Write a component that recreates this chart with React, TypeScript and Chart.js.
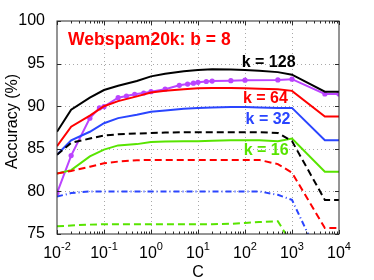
import React, { useEffect, useRef } from "react";
import { Chart, registerables } from "chart.js";
Chart.register(...registerables);

// C values (x axis, log scale)
const C_GRID = [0.01, 0.02, 0.05, 0.1, 0.2, 0.5, 1, 2, 5, 10, 20, 50, 100, 200, 500, 1000, 5000, 10000];
// solid curves
const K128 = [87.0, 89.6, 91.0, 91.9, 92.4, 92.95, 93.5, 93.8, 94.1, 94.25, 94.35, 94.3, 94.25, 94.15, 94.0, 93.7, 91.7, 91.7];
const K64 = [85.3, 87.6, 88.9, 90.0, 90.6, 91.15, 91.6, 91.8, 92.0, 92.1, 92.15, 92.15, 92.1, 92.05, 92.0, 91.8, 88.8, 88.8];
const K32 = [84.3, 86.0, 87.0, 88.0, 88.6, 89.0, 89.35, 89.5, 89.7, 89.8, 89.85, 89.9, 89.9, 89.85, 89.8, 89.8, 86.0, 86.0];
const K16 = [82.1, 82.5, 84.1, 84.9, 85.4, 85.55, 85.8, 85.85, 85.9, 85.9, 85.95, 86.0, 86.0, 86.0, 85.9, 86.2, 82.3, 82.3];
// dashed curves
const K128_D = [84.3, 85.7, 86.2, 86.55, 86.7, 86.8, 86.85, 86.9, 86.95, 86.95, 86.95, 86.95, 86.95, 86.95, 86.85, 85.9, 79.0, 79.0];
const K64_D = [82.1, 82.4, 82.9, 83.3, 83.5, 83.65, 83.7, 83.7, 83.7, 83.7, 83.7, 83.7, 83.7, 83.7, 83.2, 82.2, 75.7, 75.7];
const K32_D = [79.4, 79.8, 80.0, 80.0, 80.0, 80.0, 80.0, 80.0, 80.0, 80.0, 80.0, 80.0, 80.0, 80.0, 79.6, 79.0, 70.8, 70.8];
const K16_D = [75.9, 76.0, 76.1, 76.15, 76.15, 76.15, 76.15, 76.15, 76.15, 76.15, 76.15, 76.2, 76.3, 76.4, 76.5, 73.8, 70.0, 70.0];
// magenta curve with markers
const C_MAG = [0.01, 0.02, 0.05, 0.08, 0.1, 0.2, 0.3, 0.45, 0.7, 1, 2, 4, 6, 8, 10, 15, 20, 50, 100, 500, 1000, 5000, 10000];
const MAG = [79.8, 84.2, 88.6, 89.8, 89.95, 91.0, 91.2, 91.4, 91.55, 91.7, 92.0, 92.45, 92.6, 92.7, 92.8, 92.9, 92.95, 93.0, 93.05, 93.08, 93.17, 91.44, 91.44];

const X_EXPONENTS = [-2, -1, 0, 1, 2, 3, 4];
const Y_MIN = 75;
const Y_MAX = 100;
const Y_STEP = 5;
const TITLE = "Webspam20k: b = 8";
const X_TITLE = "C";
const Y_TITLE = "Accuracy (%)";

const BLACK = "#000000";
const RED = "#ff0000";
const BLUE = "#2a45ff";
const GREEN = "#58e400";
const MAGENTA = "#bb44ff";

// annotation text anchored in data coordinates
const ANNOTATIONS = [
  { text: "k = 128", c: 318, v: 94.64, color: BLACK },
  { text: "k = 64", c: 272, v: 90.35, color: RED },
  { text: "k = 32", c: 309, v: 87.93, color: BLUE },
  { text: "k = 16", c: 282, v: 84.3, color: GREEN },
];
const TITLE_POS = { c: 0.0172, v: 97.19 };

const FONT = "'Liberation Sans', Arial, Helvetica, sans-serif";

const pts = (xs: number[], ys: number[]) => xs.map((x, i) => ({ x, y: ys[i] }));

const dottedGrid = {
  id: "dottedGrid",
  beforeDatasetsDraw(chart: any) {
    const { ctx, chartArea: a, scales } = chart;
    ctx.save();
    ctx.strokeStyle = "#a8a8a8";
    ctx.lineWidth = 1;
    ctx.setLineDash([1, 3]);
    ctx.beginPath();
    for (const e of X_EXPONENTS) {
      const px = Math.round(scales.x.getPixelForValue(Math.pow(10, e))) + 0.5;
      if (px <= a.left + 1 || px >= a.right - 1) continue;
      ctx.moveTo(px, a.bottom);
      ctx.lineTo(px, a.top);
    }
    for (let v = Y_MIN + Y_STEP; v < Y_MAX; v += Y_STEP) {
      const py = Math.round(scales.y.getPixelForValue(v)) + 0.5;
      ctx.moveTo(a.left, py);
      ctx.lineTo(a.right, py);
    }
    ctx.stroke();
    ctx.restore();
  },
};

const overlay = {
  id: "overlay",
  afterDraw(chart: any) {
    const { ctx, chartArea: a, scales } = chart;
    const xs = scales.x;
    const ys = scales.y;
    ctx.save();
    // axes box
    ctx.strokeStyle = "#2a2a2a";
    ctx.lineWidth = 1;
    ctx.setLineDash([]);
    ctx.strokeRect(a.left, a.top, a.right - a.left, a.bottom - a.top);
    // tick marks
    ctx.beginPath();
    for (const e of X_EXPONENTS) {
      const px = Math.round(xs.getPixelForValue(Math.pow(10, e))) + 0.5;
      ctx.moveTo(px, a.bottom); ctx.lineTo(px, a.bottom - 4);
      ctx.moveTo(px, a.top); ctx.lineTo(px, a.top + 4);
      if (e < 4) {
        for (let m = 2; m <= 9; m++) {
          const q = Math.round(xs.getPixelForValue(m * Math.pow(10, e))) + 0.5;
          ctx.moveTo(q, a.bottom); ctx.lineTo(q, a.bottom - 2.5);
          ctx.moveTo(q, a.top); ctx.lineTo(q, a.top + 2.5);
        }
      }
    }
    for (let v = Y_MIN; v <= Y_MAX; v += Y_STEP) {
      const py = Math.round(ys.getPixelForValue(v)) + 0.5;
      ctx.moveTo(a.left, py); ctx.lineTo(a.left + 4, py);
      ctx.moveTo(a.right, py); ctx.lineTo(a.right - 4, py);
    }
    ctx.stroke();

    // x tick labels with superscripts
    ctx.fillStyle = "#000";
    ctx.textBaseline = "alphabetic";
    ctx.textAlign = "left";
    for (const e of X_EXPONENTS) {
      const px = xs.getPixelForValue(Math.pow(10, e));
      ctx.font = `16px ${FONT}`;
      const w1 = ctx.measureText("10").width;
      ctx.font = `11px ${FONT}`;
      const expTxt = e < 0 ? "-" + Math.abs(e) : String(e);
      const w2 = ctx.measureText(expTxt).width;
      const start = px - (w1 + w2) / 2;
      ctx.font = `16px ${FONT}`;
      ctx.fillText("10", start, a.bottom + 24);
      ctx.font = `11px ${FONT}`;
      ctx.fillText(expTxt, start + w1, a.bottom + 16);
    }
    // x title
    ctx.font = `16px ${FONT}`;
    ctx.textAlign = "center";
    ctx.fillText(X_TITLE, (a.left + a.right) / 2, a.bottom + 43);
    // y title
    ctx.save();
    ctx.translate(13, 121.5);
    ctx.rotate(-Math.PI / 2);
    ctx.textBaseline = "middle";
    ctx.fillText(Y_TITLE, 0, 0);
    ctx.restore();

    // in-plot annotations
    ctx.font = `bold 16px ${FONT}`;
    ctx.textBaseline = "alphabetic";
    for (const an of ANNOTATIONS) {
      ctx.fillStyle = an.color;
      ctx.textAlign = "center";
      ctx.fillText(an.text, xs.getPixelForValue(an.c), ys.getPixelForValue(an.v));
    }
    ctx.fillStyle = RED;
    ctx.textAlign = "left";
    ctx.font = `bold 17.5px ${FONT}`;
    ctx.fillText(TITLE, xs.getPixelForValue(TITLE_POS.c), ys.getPixelForValue(TITLE_POS.v));
    ctx.restore();
  },
};

export default function App() {
  const ref = useRef<HTMLCanvasElement | null>(null);
  useEffect(() => {
    if (!ref.current) return;
    const line = (label: string, xs: number[], ys: number[], color: string, dash: number[] = []) => ({
      label,
      data: pts(xs, ys),
      borderColor: color,
      backgroundColor: color,
      borderWidth: 2,
      borderDash: dash,
      pointRadius: 0,
      tension: 0,
      fill: false,
    });
    const chart = new Chart(ref.current, {
      type: "line",
      data: {
        datasets: [
          line("k = 16 (dashed)", C_GRID, K16_D, GREEN, [7, 4]),
          line("k = 32 (dashed)", C_GRID, K32_D, BLUE, [6, 3, 1, 3]),
          line("k = 64 (dashed)", C_GRID, K64_D, RED, [7, 4]),
          line("k = 128 (dashed)", C_GRID, K128_D, BLACK, [7, 4]),
          line("k = 16", C_GRID, K16, GREEN),
          line("k = 32", C_GRID, K32, BLUE),
          line("k = 64", C_GRID, K64, RED),
          line("k = 128", C_GRID, K128, BLACK),
          {
            ...line("magenta", C_MAG, MAG, MAGENTA),
            pointRadius: 2.6,
            pointBackgroundColor: MAGENTA,
            pointBorderWidth: 0,
          },
        ],
      },
      options: {
        animation: false,
        responsive: true,
        maintainAspectRatio: false,
        layout: { padding: { top: 21, right: 35, left: 0, bottom: 0 } },
        plugins: { legend: { display: false }, tooltip: { enabled: false } },
        scales: {
          x: {
            type: "logarithmic",
            min: 0.01,
            max: 10000,
            afterBuildTicks: (scale: any) => {
              scale.ticks = X_EXPONENTS.map((e) => ({ value: Math.pow(10, e), major: true }));
            },
            afterFit: (scale: any) => {
              scale.height = 46;
            },
            ticks: { display: false },
            grid: { display: false },
            border: { display: false },
          },
          y: {
            min: Y_MIN,
            max: Y_MAX,
            afterFit: (scale: any) => {
              scale.width = 57;
            },
            ticks: {
              stepSize: Y_STEP,
              color: "#000",
              padding: 4,
              font: { family: FONT, size: 16 },
            },
            grid: { display: false },
            border: { display: false },
          },
        },
      } as any,
      plugins: [dottedGrid, overlay],
    });
    return () => chart.destroy();
  }, []);
  return (
    <div style={{ position: "fixed", left: 0, top: 0, width: 374, height: 280, background: "#fff" }}>
      <canvas ref={ref} />
    </div>
  );
}
